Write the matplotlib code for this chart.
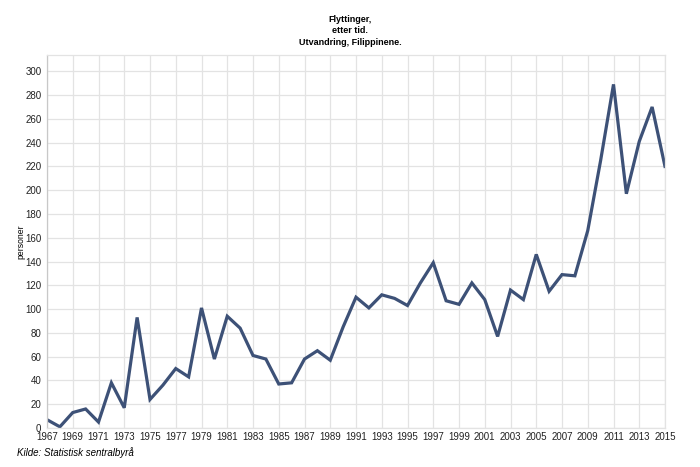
import numpy as np
import matplotlib
matplotlib.use("Agg")
import matplotlib.pyplot as plt


years = np.arange(1967, 2016)
personer = [7, 1, 13, 16, 5, 38, 17, 93, 24, 36, 50, 43, 101, 58, 94,
            84, 61, 58, 37, 38, 58, 65, 57, 85, 110, 101, 112, 109, 103, 122,
            139, 107, 104, 122, 108, 77, 116, 108, 146, 115, 129, 128, 166, 225,
            289, 197, 241, 270, 220]

title = "Flyttinger,\netter tid.\nUtvandring, Filippinene."
source = "Kilde: Statistisk sentralbyrå"
lineColor = "#3d5177"
gridColor = "#e3e3e3"

plt.rcParams['font.family'] = ['Liberation Sans', 'DejaVu Sans']

fig = plt.figure(figsize=(7, 4.67), dpi=100)
ax = fig.add_axes([47/700, 1-428/467, (665-47)/700, (428-55)/467])

ax.plot(years, personer, color=lineColor, linewidth=2.3, solid_joinstyle='miter')

ax.set_xlim(1967, 2015)
ax.set_ylim(0, 313.7)
ax.set_xticks(np.arange(1967, 2016, 2))
ax.set_yticks(np.arange(0, 301, 20))
ax.tick_params(axis='both', length=0, colors='#222222', labelsize=7)
ax.tick_params(axis='x', pad=3)
ax.tick_params(axis='y', pad=4)
ax.grid(True, color=gridColor, linewidth=0.9)
ax.set_axisbelow(True)
for side in ax.spines:
    ax.spines[side].set_color(gridColor)
    ax.spines[side].set_linewidth(0.9)
ax.spines['left'].set_color('#c8c8c8')

ax.set_ylabel("personer", fontsize=6.2)
ax.yaxis.set_label_coords(25/700, 1-242/467, transform=fig.transFigure)

fig.text(0.5, 1-15/467, title, ha='center', va='top', fontsize=6.5,
         fontweight='bold', linespacing=1.35)
fig.text(17/700, 1-453/467, source, ha='left', va='center', fontsize=7,
         style='italic')

plt.savefig("out.png", dpi=100)
